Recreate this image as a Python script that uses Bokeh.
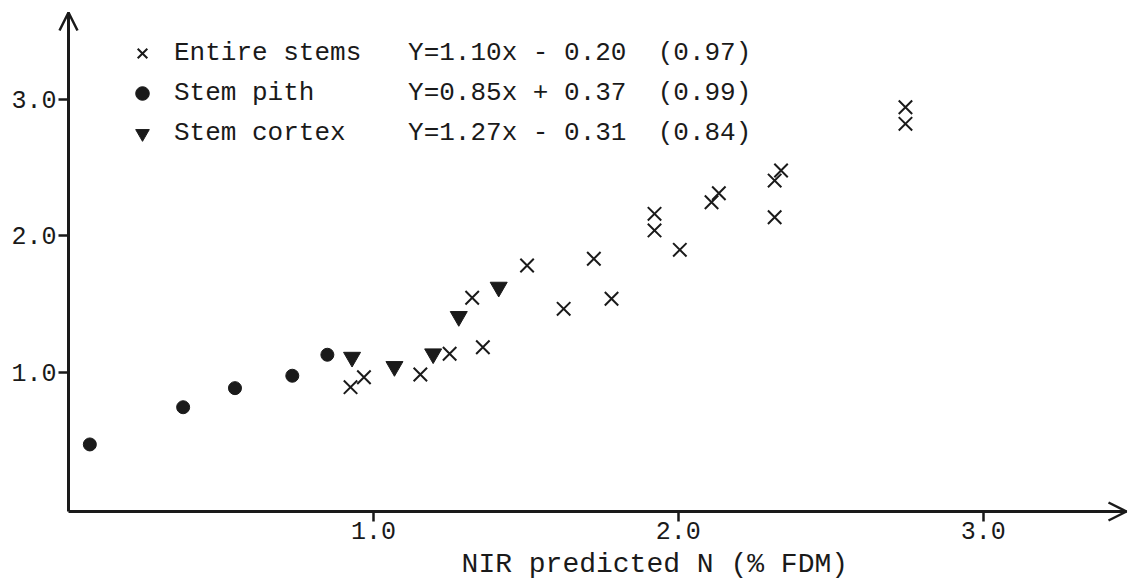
from bokeh.plotting import figure
from bokeh.models import (Range1d, FixedTicker, Arrow, OpenHead, Label, Legend, LegendItem)
from bokeh.embed import file_html
from bokeh.resources import INLINE

# ---- data ----
stems_x = [0.925, 0.969, 1.154, 1.250, 1.359, 1.324, 1.504, 1.624, 1.723, 1.781,
           1.922, 1.922, 2.005, 2.109, 2.133, 2.316, 2.316, 2.337, 2.745, 2.745]
stems_y = [0.890, 0.963, 0.983, 1.135, 1.183, 1.546, 1.783, 1.465, 1.832, 1.539,
           2.162, 2.040, 1.898, 2.247, 2.313, 2.137, 2.406, 2.480, 2.944, 2.822]

pith_x = [0.070, 0.376, 0.546, 0.734, 0.849]
pith_y = [0.470, 0.743, 0.883, 0.974, 1.128]

cortex_x = [0.930, 1.069, 1.196, 1.280, 1.411]
cortex_y = [1.110, 1.042, 1.135, 1.409, 1.624]

series_names = ["Entire stems", "Stem pith", "Stem cortex"]
equations = ["Y=1.10x - 0.20", "Y=0.85x + 0.37", "Y=1.27x - 0.31"]
r_values = ["(0.97)", "(0.99)", "(0.84)"]

x_ticks = [1, 2, 3]
x_tick_labels = ["1.0", "2.0", "3.0"]
y_ticks = [1, 2, 3]
y_tick_labels = ["1.0", "2.0", "3.0"]
x_title = "NIR predicted N (% FDM)"

# ---- styling / geometry ----
INK = "#1a1a1a"
FONT = "Liberation Mono"
W, H = 1137, 581
X_PX0, X_PX_PER = 68.0, 304.9     # pixel of x=0, pixels per unit
Y_PX0, Y_PX_PER = 508.0, 136.3    # pixel of y=0, pixels per unit
X_TIP = 3.47      # end of x axis arrow
Y_TIP = 3.639     # end of y axis arrow
Y_AX = -0.022     # height where the x axis crosses

x_range = Range1d(-X_PX0 / X_PX_PER, (W - X_PX0) / X_PX_PER)
y_range = Range1d(-(H - Y_PX0) / Y_PX_PER, Y_PX0 / Y_PX_PER)

p = figure(width=W, height=H, output_backend="svg", toolbar_location=None,
           x_range=x_range, y_range=y_range,
           min_border_left=0, min_border_right=0, min_border_top=0,
           min_border_bottom=0, background_fill_color="white",
           border_fill_color="white")
p.outline_line_color = None
p.xgrid.visible = False
p.ygrid.visible = False

p.xaxis.fixed_location = Y_AX
p.yaxis.fixed_location = 0
p.xaxis.bounds = (0, X_TIP)
p.yaxis.bounds = (Y_AX, Y_TIP)

for ax, ticks, labels in ((p.xaxis, x_ticks, x_tick_labels), (p.yaxis, y_ticks, y_tick_labels)):
    ax.ticker = FixedTicker(ticks=ticks)
    ax.major_label_overrides = {t: l for t, l in zip(ticks, labels)}
    ax.axis_line_width = 3
    ax.axis_line_color = INK
    ax.major_tick_line_width = 2.5
    ax.major_tick_line_color = INK
    ax.major_tick_out = 10
    ax.major_tick_in = 0
    ax.minor_tick_line_color = None
    ax.major_label_text_font = FONT
    ax.major_label_text_font_size = "25px"
    ax.major_label_text_color = INK
p.xaxis.major_label_standoff = 1
p.yaxis.major_label_standoff = 2

r1 = p.scatter(stems_x, stems_y, marker="x", size=19, line_color=INK, line_width=2)
r2 = p.scatter(pith_x, pith_y, marker="circle", size=13, fill_color=INK, line_color=INK)
r3 = p.scatter(cortex_x, cortex_y, marker="inverted_triangle", size=17,
               fill_color=INK, line_color=INK)

NB = "\u00a0"
items = []
for name, eq, rv, rend in zip(series_names, equations, r_values, [r1, r2, r3]):
    lab = name.ljust(15) + eq + "  " + rv
    items.append(LegendItem(label=lab.replace(" ", NB), renderers=[rend]))

legend = Legend(items=items, location=(125, 431), orientation="vertical",
                padding=0, margin=0, spacing=6, glyph_width=34, glyph_height=34,
                label_height=30, label_standoff=15, border_line_color=None,
                background_fill_alpha=0, label_text_font=FONT,
                label_text_font_size="26px", label_text_color=INK)
p.add_layout(legend)

# axis arrows
p.add_layout(Arrow(end=OpenHead(size=18, line_width=2.5, line_color=INK),
                   x_start=X_TIP - 0.1, y_start=Y_AX, x_end=X_TIP, y_end=Y_AX,
                   line_width=3, line_color=INK))
p.add_layout(Arrow(end=OpenHead(size=18, line_width=2.5, line_color=INK),
                   x_start=0, y_start=Y_TIP - 0.2, x_end=0, y_end=Y_TIP,
                   line_width=3, line_color=INK))

p.add_layout(Label(x=1.923, y=(Y_PX0 - 564) / Y_PX_PER, text=x_title,
                   text_align="center", text_baseline="alphabetic",
                   text_font=FONT, text_font_size="28px", text_color=INK))

open("out.html", "w").write(file_html(p, INLINE))
